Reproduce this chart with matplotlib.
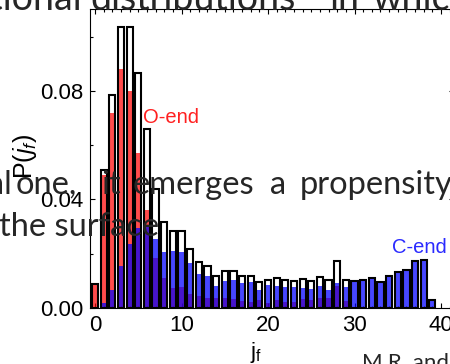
import matplotlib
matplotlib.use("Agg")
import matplotlib.pyplot as plt
from matplotlib.ticker import MultipleLocator, FixedLocator, FormatStrFormatter

plt.rcParams["font.family"] = ["Liberation Sans", "DejaVu Sans"]
plt.rcParams["mathtext.fontset"] = "custom"
plt.rcParams["mathtext.rm"] = "Liberation Sans"
plt.rcParams["mathtext.it"] = "Liberation Sans:italic"

# Final rotational state j_f
j_values = list(range(40))

# Probability contributions of O-end and C-end collisions
o_end = [0.0090, 0.0490, 0.0720, 0.0880, 0.0800, 0.0570, 0.0360, 0.0184,
         0.0110, 0.0075, 0.0076, 0.0050, 0.0045, 0.0038, 0.0036, 0.0036,
         0.0034, 0.0026, 0.0022, 0.0030, 0.0020, 0.0030, 0.0023, 0.0022,
         0.0032, 0.0030, 0.0036, 0.0036, 0.0082, 0.0026, 0.0003, 0.0000,
         0.0000, 0.0000, 0.0000, 0.0000, 0.0000, 0.0000, 0.0000, 0.0000]
c_end = [0.0000, 0.0020, 0.0065, 0.0155, 0.0235, 0.0295, 0.0300, 0.0256,
         0.0206, 0.0209, 0.0208, 0.0166, 0.0125, 0.0117, 0.0082, 0.0101,
         0.0102, 0.0092, 0.0096, 0.0066, 0.0083, 0.0082, 0.0079, 0.0078,
         0.0074, 0.0070, 0.0080, 0.0067, 0.0091, 0.0076, 0.0097, 0.0104,
         0.0109, 0.0095, 0.0117, 0.0134, 0.0139, 0.0173, 0.0177, 0.0028]
total = [o + c for o, c in zip(o_end, c_end)]

x_ticks = [0, 10, 20, 30, 40]
y_ticks = [0.00, 0.04, 0.08]

W, H = 450, 364
fig = plt.figure(figsize=(W / 100, H / 100), dpi=100)
ax = fig.add_axes([90 / W, (H - 308) / H, (454 - 90) / W, (308 - 9) / H])

bw = 0.72
ax.bar(j_values, total, width=bw, color="white", zorder=1)
ax.bar(j_values, o_end, width=bw, color="#ff0000", alpha=0.70, zorder=2)
ax.bar(j_values, c_end, width=bw, color="#0000ff", alpha=0.72, zorder=2)
ax.bar(j_values, total, width=bw, facecolor="none", edgecolor="black",
       linewidth=1.5, zorder=3)

ax.set_xlim(-0.58, 41.5)
ax.set_ylim(0, 0.1102)
ax.xaxis.set_major_locator(FixedLocator(x_ticks))
ax.xaxis.set_minor_locator(MultipleLocator(1))
ax.yaxis.set_major_locator(FixedLocator(y_ticks))
ax.yaxis.set_minor_locator(MultipleLocator(0.02))
ax.yaxis.set_major_formatter(FormatStrFormatter("%.2f"))
ax.tick_params(which="both", direction="in", top=True, right=True,
               labelsize=16, width=0.8)
ax.tick_params(which="major", length=3.8, pad=5)
ax.tick_params(which="minor", length=1.8)
for s in ax.spines.values():
    s.set_linewidth(0.8)

ax.text(5.55, 0.0682, "O-end", color="#ff2020", fontsize=14.5)
ax.text(34.3, 0.0203, "C-end", color="#2a2aff", fontsize=14.5)

fig.text(25 / W, 1 - 157 / H, r"P($\mathit{j_f}$)", rotation=90,
         fontsize=18, ha="center", va="center")
fig.text(256 / W, 1 - 358 / H, r"$\mathrm{j_f}$", fontsize=16,
         ha="center", va="baseline")

# Justified body text of the surrounding page, placed word by word
body = dict(family=["Lato", "DejaVu Sans"], color="#262626",
            va="baseline", zorder=5)


def words(items, y_px, size):
    for word, x_px, align in items:
        fig.text(x_px / W, 1 - y_px / H, word, ha=align, fontsize=size, **body)


words([("rotational", 82, "right"), ("distributions", 90, "left"),
       ("in", 330, "left"), ("which", 372, "left")], 10, 27)
words([("al", 12, "right"), ("one,", 16, "left"), ("it", 101, "left"),
       ("emerges", 133, "left"), ("a", 270, "left"),
       ("propensity", 300, "left")], 194, 23.5)
words([("the surface", -1, "left")], 236, 23.5)
words([("M.R. and", 362, "left")], 369, 16)

fig.savefig("out.png", dpi=100)
